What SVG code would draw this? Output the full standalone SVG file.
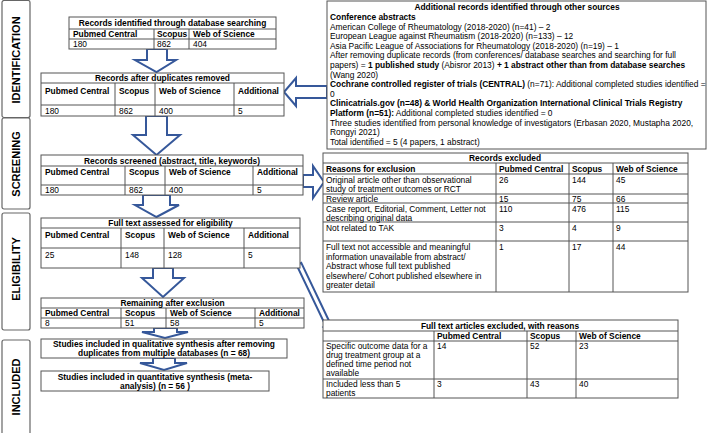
<svg xmlns="http://www.w3.org/2000/svg" width="708" height="433" viewBox="0 0 708 433">
<style>
text{font-family:"Liberation Sans",Arial,sans-serif;font-size:8.4px;fill:#000}
.b{font-weight:bold}
.c{text-anchor:middle}
.box{fill:#fff;stroke:#555;stroke-width:1}
.ln{stroke:#555;stroke-width:1;fill:none}
.lab{fill:#fff;stroke:#666;stroke-width:1.2}
.lt{font-size:11px;font-weight:bold;text-anchor:middle}
.arr{fill:#fff;stroke:#36589a;stroke-width:2;stroke-linejoin:miter}
</style>
<rect width="708" height="433" fill="#fff"/>

<g id="label-identification"><rect class="lab" x="2" y="0.5" width="28" height="117" rx="2"/><text class="lt" transform="translate(20,60) rotate(-90)">IDENTIFICATION</text></g>
<g id="label-screening"><rect class="lab" x="2" y="118" width="28" height="91" rx="2"/><text class="lt" transform="translate(20,164) rotate(-90)">SCREENING</text></g>
<g id="label-eligibility"><rect class="lab" x="2" y="213" width="28" height="117" rx="2"/><text class="lt" transform="translate(20,269) rotate(-90)">ELIGIBILITY</text></g>
<g id="label-included"><rect class="lab" x="2" y="340" width="28" height="95" rx="2"/><text class="lt" transform="translate(20,387) rotate(-90)">INCLUDED</text></g>

<g id="connectors">
<polygon class="arr" points="147,49 167,49 167,60 176,60 156.5,72 135,60 147,60"/>
<polygon class="arr" points="146,116 167,116 167,135 180,135 156.5,155 133,135 146,135"/>
<polygon class="arr" points="327,86 296,86 296,78 284,92 296,106 296,98 327,98"/>
<polygon class="arr" points="303,175 313,175 313,166 324,182 313,198 313,187 303,187"/>
<polygon class="arr" points="143,195 170,195 170,205 179,205 156.5,217 135,205 143,205"/>
<polygon class="arr" points="153,268 173,268 173,278 184,278 163,297 142,278 153,278"/>
<polygon class="arr" points="154,328 177,328 177,332 188,332 165,338 142,332 154,332"/>
<polygon class="arr" points="153,358 175,358 175,363 187,363 164,370 140,363 153,363"/>
<polygon class="arr" stroke-width="1.6" points="301.3,262.9 330.4,323.8 332.6,322.7 332,333 323.6,327.1 325.8,326 296.7,265.1"/>
</g>

<g id="db-search">
<rect class="box" x="69" y="17" width="207" height="32"/>
<path class="ln" d="M69 29H276M69 39H276M154 29V49M189 29V49"/>
<text class="b c" x="172.5" y="26">Records identified through database searching</text>
<text class="b" x="73" y="36.5">Pubmed Central</text><text class="b" x="157" y="36.5">Scopus</text><text class="b" x="193" y="36.5">Web of Science</text>
<text x="73" y="46.5">180</text><text x="157" y="46.5">862</text><text x="193" y="46.5">404</text>
</g>

<g id="other-sources">
<rect class="box" x="327" y="1" width="379" height="148"/>
<text class="b c" x="517" y="10">Additional records identified through other sources</text>
<text class="b" x="330" y="20">Conference abstracts</text>
<text x="330" y="29.6">American College of Rheumatology (2018-2020) (n=41) – 2</text>
<text x="330" y="39.2">European League against Rheumatism (2018-2020) (n=133) – 12</text>
<text x="330" y="48.8">Asia Pacific League of Associations for Rheumatology (2018-2020) (n=19) – 1</text>
<text x="330" y="58.4">After removing duplicate records (from conferences/ database searches and searching for full</text>
<text x="330" y="68">papers) = <tspan class="b">1 published study</tspan> (Abisror 2013) <tspan class="b">+ 1 abstract other than from database searches</tspan></text>
<text x="330" y="77.6">(Wang 2020)</text>
<text x="330" y="87.2"><tspan class="b">Cochrane controlled register of trials (CENTRAL)</tspan> (n=71): Additional completed studies identified =</text>
<text x="330" y="96.8">0</text>
<text class="b" x="330" y="106.4">Clinicatrials.gov (n=48) &amp; World Health Organization International Clinical Trials Registry</text>
<text x="330" y="116"><tspan class="b">Platform (n=51):</tspan> Additional completed studies identified = 0</text>
<text x="330" y="125.6">Three studies identified from personal knowledge of investigators (Erbasan 2020, Mustapha 2020,</text>
<text x="330" y="135.2">Rongyi 2021)</text>
<text x="330" y="144.8">Total identified = 5 (4 papers, 1 abstract)</text>
</g>

<g id="dedup">
<rect class="box" x="41" y="73" width="243" height="43"/>
<path class="ln" d="M41 83H284M41 105H284M115 83V116M155 83V116M234 83V116"/>
<text class="b c" x="162.5" y="81">Records after duplicates removed</text>
<text class="b" x="45" y="94">Pubmed Central</text><text class="b" x="119" y="94">Scopus</text><text class="b" x="159" y="94">Web of Science</text><text class="b" x="238" y="94">Additional</text>
<text x="45" y="114">180</text><text x="119" y="114">862</text><text x="159" y="114">400</text><text x="238" y="114">5</text>
</g>

<g id="screened">
<rect class="box" x="41" y="155" width="262" height="40"/>
<path class="ln" d="M41 166H303M41 185H303M125 166V195M165 166V195M253 166V195"/>
<text class="b c" x="172" y="163.5">Records screened (abstract, title, keywords)</text>
<text class="b" x="45" y="174.5">Pubmed Central</text><text class="b" x="129" y="174.5">Scopus</text><text class="b" x="169" y="174.5">Web of Science</text><text class="b" x="257" y="174.5">Additional</text>
<text x="45" y="193">180</text><text x="129" y="193">862</text><text x="169" y="193">400</text><text x="257" y="193">5</text>
</g>

<g id="fulltext">
<rect class="box" x="41" y="218" width="259" height="50"/>
<path class="ln" d="M41 228H300M41 248H300M121 228V268M164 228V268M244 228V268"/>
<text class="b c" x="170.5" y="226">Full text assessed for eligibility</text>
<text class="b" x="45" y="237.5">Pubmed Central</text><text class="b" x="125" y="237.5">Scopus</text><text class="b" x="168" y="237.5">Web of Science</text><text class="b" x="248" y="237.5">Additional</text>
<text x="45" y="257.5">25</text><text x="125" y="257.5">148</text><text x="168" y="257.5">128</text><text x="248" y="257.5">5</text>
</g>

<g id="remaining">
<rect class="box" x="41" y="298" width="263" height="30"/>
<path class="ln" d="M41 308H304M41 318H304M121 308V328M166 308V328M255 308V328"/>
<text class="b c" x="172.5" y="306">Remaining after exclusion</text>
<text class="b" x="45" y="316">Pubmed Central</text><text class="b" x="125" y="316">Scopus</text><text class="b" x="170" y="316">Web of Science</text><text class="b" x="259" y="316">Additional</text>
<text x="45" y="326">8</text><text x="125" y="326">51</text><text x="170" y="326">58</text><text x="259" y="326">5</text>
</g>

<g id="qualitative">
<rect class="box" x="41" y="339" width="246" height="19"/>
<text class="b c" x="164" y="347">Studies included in qualitative synthesis after removing</text>
<text class="b c" x="164" y="356">duplicates from multiple databases (n = 68)</text>
</g>

<g id="quantitative">
<rect class="box" x="41" y="371" width="228" height="20"/>
<text class="b c" x="155" y="379.5">Studies included in quantitative synthesis (meta-</text>
<text class="b c" x="155" y="388.5">analysis) (n = 56 )</text>
</g>

<g id="records-excluded">
<rect class="box" x="323" y="153" width="365" height="139"/>
<path class="ln" d="M323 163H688M323 174H688M323 194H688M323 203H688M323 222H688M323 241H688M496 163V292M569 163V292M613 163V292"/>
<text class="b c" x="505" y="161">Records excluded</text>
<text class="b" x="326" y="171.5">Reasons for exclusion</text><text class="b" x="499" y="171.5">Pubmed Central</text><text class="b" x="572" y="171.5">Scopus</text><text class="b" x="616" y="171.5">Web of Science</text>
<text x="326" y="182.5">Original article other than observational</text><text x="326" y="192">study of treatment outcomes or RCT</text>
<text x="499" y="182.5">26</text><text x="572" y="182.5">144</text><text x="616" y="182.5">45</text>
<text x="326" y="201.5">Review article</text><text x="499" y="201.5">15</text><text x="572" y="201.5">75</text><text x="616" y="201.5">66</text>
<text x="326" y="211.5">Case report, Editorial, Comment, Letter not</text><text x="326" y="220.5">describing original data</text>
<text x="499" y="211.5">110</text><text x="572" y="211.5">476</text><text x="616" y="211.5">115</text>
<text x="326" y="231">Not related to TAK</text><text x="499" y="231">3</text><text x="572" y="231">4</text><text x="616" y="231">9</text>
<text x="326" y="250">Full text not accessible and meaningful</text>
<text x="326" y="259.5">information unavailable from abstract/</text>
<text x="326" y="269">Abstract whose full text published</text>
<text x="326" y="278.5">elsewhere/ Cohort published elsewhere in</text>
<text x="326" y="288">greater detail</text>
<text x="499" y="250">1</text><text x="572" y="250">17</text><text x="616" y="250">44</text>
</g>

<g id="fulltext-excluded">
<rect class="box" x="323" y="320" width="355" height="78"/>
<path class="ln" d="M323 331H678M323 341H678M323 379H678M434 331V398M527 331V398M576 331V398"/>
<text class="b c" x="500" y="328.5">Full text articles excluded, with reasons</text>
<text class="b" x="437" y="339">Pubmed Central</text><text class="b" x="530" y="339">Scopus</text><text class="b" x="579" y="339">Web of Science</text>
<text x="326" y="349">Specific outcome data for a</text><text x="326" y="358">drug treatment group at a</text><text x="326" y="367">defined time period not</text><text x="326" y="376">available</text>
<text x="437" y="349">14</text><text x="530" y="349">52</text><text x="579" y="349">23</text>
<text x="326" y="387">Included less than 5</text><text x="326" y="396">patients</text>
<text x="437" y="387">3</text><text x="530" y="387">43</text><text x="579" y="387">40</text>
</g>
</svg>
